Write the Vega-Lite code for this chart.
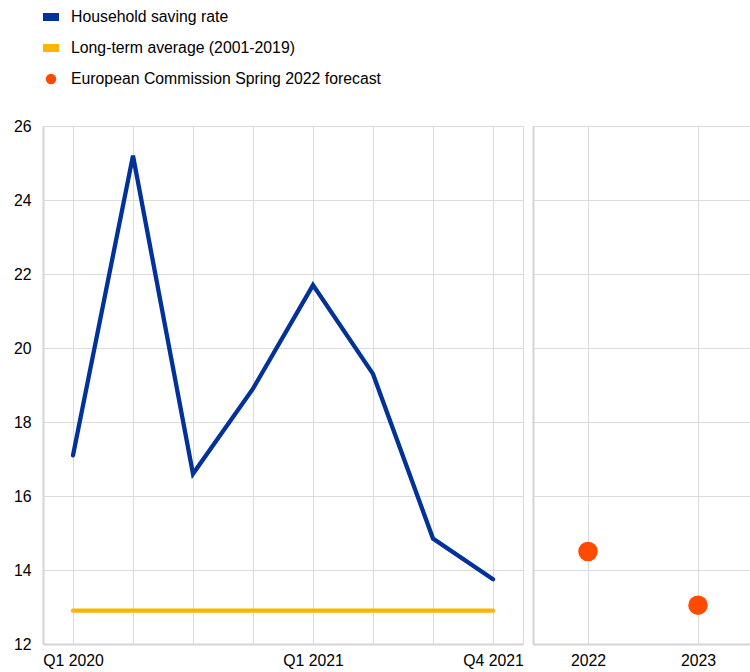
{
  "$schema": "https://vega.github.io/schema/vega-lite/v6.json",
  "padding": {"left": 12, "top": 9, "right": 0, "bottom": 0},
  "spacing": 8,
  "config": {
    "font": "Liberation Sans",
    "view": {"stroke": "#dcdcdc", "strokeWidth": 1},
    "axis": {
      "labelFont": "Liberation Sans",
      "labelFontSize": 15.8,
      "labelColor": "#000000",
      "ticks": false,
      "domainColor": "#d4d4d4",
      "domainWidth": 2,
      "gridColor": "#dcdcdc",
      "gridWidth": 1,
      "title": null
    },
    "legend": {
      "labelFont": "Liberation Sans",
      "labelFontSize": 15.8,
      "labelColor": "#000000",
      "labelLimit": 0
    }
  },
  "datasets": {
    "quarterly": [
      {"quarter": "Q1 2020", "value": 17.1, "series": "Household saving rate"},
      {"quarter": "Q2 2020", "value": 25.2, "series": "Household saving rate"},
      {"quarter": "Q3 2020", "value": 16.6, "series": "Household saving rate"},
      {"quarter": "Q4 2020", "value": 18.9, "series": "Household saving rate"},
      {"quarter": "Q1 2021", "value": 21.7, "series": "Household saving rate"},
      {"quarter": "Q2 2021", "value": 19.3, "series": "Household saving rate"},
      {"quarter": "Q3 2021", "value": 14.85, "series": "Household saving rate"},
      {"quarter": "Q4 2021", "value": 13.75, "series": "Household saving rate"},
      {"quarter": "Q1 2020", "value": 12.9, "series": "Long-term average (2001-2019)"},
      {"quarter": "Q2 2020", "value": 12.9, "series": "Long-term average (2001-2019)"},
      {"quarter": "Q3 2020", "value": 12.9, "series": "Long-term average (2001-2019)"},
      {"quarter": "Q4 2020", "value": 12.9, "series": "Long-term average (2001-2019)"},
      {"quarter": "Q1 2021", "value": 12.9, "series": "Long-term average (2001-2019)"},
      {"quarter": "Q2 2021", "value": 12.9, "series": "Long-term average (2001-2019)"},
      {"quarter": "Q3 2021", "value": 12.9, "series": "Long-term average (2001-2019)"},
      {"quarter": "Q4 2021", "value": 12.9, "series": "Long-term average (2001-2019)"}
    ],
    "forecast": [
      {"year": "2022", "value": 14.5, "series": "European Commission Spring 2022 forecast"},
      {"year": "2023", "value": 13.05, "series": "European Commission Spring 2022 forecast"}
    ]
  },
  "hconcat": [
    {
      "width": 480,
      "height": 518,
      "data": {"name": "quarterly"},
      "mark": {"type": "line", "strokeWidth": 4.3, "strokeCap": "round", "strokeJoin": "miter"},
      "encoding": {
        "x": {
          "field": "quarter",
          "type": "ordinal",
          "sort": null,
          "scale": {"paddingInner": 0, "paddingOuter": 0},
          "axis": {
            "labelAngle": 0,
            "bandPosition": 0,
            "grid": true,
            "labelPadding": 9,
            "labelExpr": "(datum.value == 'Q1 2020' || datum.value == 'Q1 2021' || datum.value == 'Q4 2021') ? datum.value : ''",
            "labelBound": false,
            "labelOverlap": false
          }
        },
        "y": {
          "field": "value",
          "type": "quantitative",
          "scale": {"domain": [12, 26], "nice": false, "zero": false},
          "axis": {"values": [12, 14, 16, 18, 20, 22, 24, 26], "labelPadding": 12, "grid": true}
        },
        "color": {
          "field": "series",
          "type": "nominal",
          "scale": {
            "domain": ["Household saving rate", "Long-term average (2001-2019)", "European Commission Spring 2022 forecast"],
            "range": ["#003299", "#FFB400", "#FF4B00"]
          },
          "legend": {
            "title": null,
            "orient": "top",
            "direction": "vertical",
            "rowPadding": 15,
            "labelOffset": 12,
            "offset": 30,
            "encode": {
              "symbols": {
                "update": {
                  "shape": {"signal": "datum.value == 'European Commission Spring 2022 forecast' ? 'circle' : 'M-1,-0.5H1V0.5H-1Z'"},
                  "size": {"signal": "datum.value == 'European Commission Spring 2022 forecast' ? 110 : 256"},
                  "strokeWidth": {"value": 0},
                  "fillOpacity": {"value": 1}
                }
              }
            }
          }
        }
      }
    },
    {
      "width": 220,
      "height": 518,
      "data": {"name": "forecast"},
      "mark": {"type": "point", "filled": true, "size": 380, "opacity": 1},
      "encoding": {
        "x": {
          "field": "year",
          "type": "ordinal",
          "scale": {"paddingInner": 0, "paddingOuter": 0},
          "axis": {"labelAngle": 0, "bandPosition": 0, "grid": true, "labelPadding": 9}
        },
        "y": {
          "field": "value",
          "type": "quantitative",
          "scale": {"domain": [12, 26], "nice": false, "zero": false},
          "axis": {"values": [12, 14, 16, 18, 20, 22, 24, 26], "labels": false, "grid": true}
        },
        "color": {"field": "series", "type": "nominal"}
      }
    }
  ]
}
